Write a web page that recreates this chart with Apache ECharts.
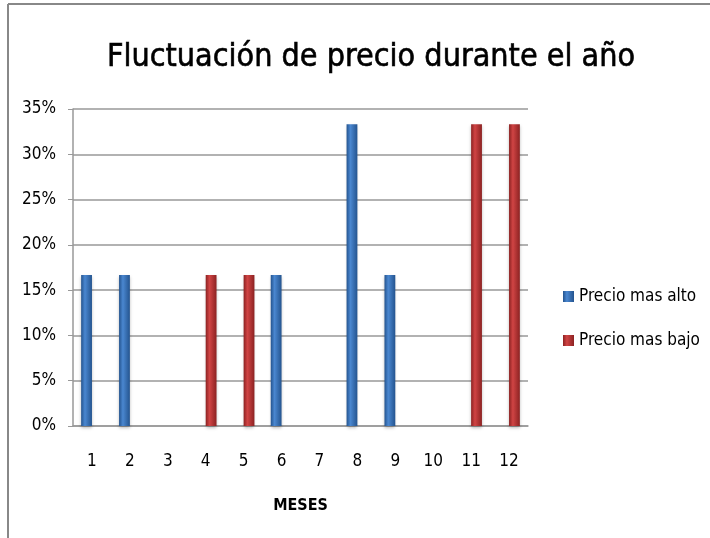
<!doctype html>
<html lang="es">
<head>
<meta charset="UTF-8">
<title>Fluctuación de precio durante el año</title>
<style>
  html, body { margin: 0; padding: 0; background: #fff; }
  #chart { width: 710px; height: 538px; }
</style>
<script src="https://cdn.jsdelivr.net/npm/echarts@6/dist/echarts.min.js"></script>
</head>
<body>
<div id="chart"></div>
<script>
// meses
var meses = ['1', '2', '3', '4', '5', '6', '7', '8', '9', '10', '11', '12'];
// porcentajes (%)
var precioAlto = [16.67, 16.67, 0, 0, 0, 16.67, 0, 33.33, 16.67, 0, 0, 0];
var precioBajo = [0, 0, 0, 16.67, 16.67, 0, 0, 0, 0, 0, 33.33, 33.33];
var ticksY = [0, 5, 10, 15, 20, 25, 30, 35];

var fuente = "'Liberation Sans Narrow', 'DejaVu Sans Condensed', sans-serif";

var barra = function (borde, centro) {
    return {
        color: new echarts.graphic.LinearGradient(0, 0, 1, 0, [
            { offset: 0, color: borde },
            { offset: 0.35, color: centro },
            { offset: 1, color: borde }
        ]),
        shadowColor: 'rgba(0,0,0,0.25)',
        shadowBlur: 3,
        shadowOffsetY: 2
    };
};

var myChart = echarts.init(document.getElementById('chart'));
var option = {
    animation: false,
    textStyle: { fontFamily: fuente },
    title: {
        text: 'Fluctuación de precio durante el año',
        left: 366,
        top: 37,
        textAlign: 'center',
        textStyle: { fontFamily: fuente, fontSize: 32, fontWeight: 'normal', color: '#000', textBorderColor: '#000', textBorderWidth: 0.6 }
    },
    legend: {
        orient: 'vertical',
        left: 558,
        top: 283,
        itemGap: 27,
        itemWidth: 11,
        itemHeight: 11,
        icon: 'rect',
        textStyle: { fontFamily: fuente, fontSize: 17, color: '#000' },
        data: ['Precio mas alto', 'Precio mas bajo']
    },
    grid: { left: 73, right: 182, top: 109, bottom: 112, containLabel: false },
    xAxis: {
        type: 'category',
        data: meses,
        name: 'MESES',
        nameLocation: 'middle',
        nameGap: 72,
        nameTextStyle: { fontFamily: fuente, fontSize: 16, fontWeight: 'bold', color: '#000' },
        axisLine: { lineStyle: { color: '#999', width: 1.5 } },
        axisTick: { show: false },
        axisLabel: { fontSize: 17, color: '#000', margin: 27 }
    },
    yAxis: {
        type: 'value',
        min: ticksY[0],
        max: ticksY[ticksY.length - 1],
        interval: 5,
        axisLine: { show: true, lineStyle: { color: '#999', width: 1.5 } },
        axisTick: { show: true, length: 5, lineStyle: { color: '#999' } },
        axisLabel: { fontSize: 17, color: '#000', margin: 17, formatter: '{value}%' },
        splitLine: { lineStyle: { color: '#999', width: 1.5 } }
    },
    series: [
        {
            name: 'Precio mas alto',
            type: 'bar',
            data: precioAlto,
            barGap: '0%',
            barCategoryGap: '43%',
            itemStyle: barra('#24548f', '#4a87d0')
        },
        {
            name: 'Precio mas bajo',
            type: 'bar',
            data: precioBajo,
            barGap: '0%',
            barCategoryGap: '43%',
            itemStyle: barra('#8c2222', '#d04444')
        }
    ],
    graphic: [
        { type: 'line', shape: { x1: 8, y1: 4, x2: 710, y2: 4 }, style: { stroke: '#888', lineWidth: 2 } },
        { type: 'line', shape: { x1: 8, y1: 4, x2: 8, y2: 538 }, style: { stroke: '#888', lineWidth: 2 } }
    ]
};
myChart.setOption(option);
</script>
</body>
</html>
